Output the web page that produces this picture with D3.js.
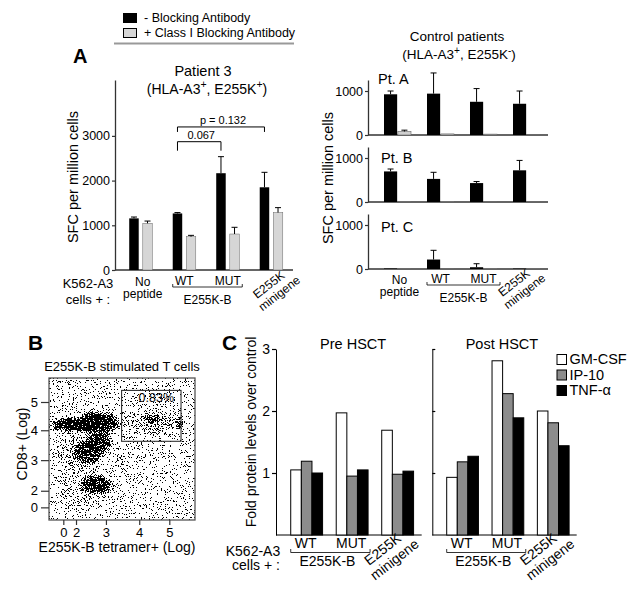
<!DOCTYPE html>
<html>
<head>
<meta charset="utf-8">
<script src="https://cdn.jsdelivr.net/npm/d3@7"></script>
<style>body{margin:0;background:#fff}</style>
</head>
<body>
<script>
// ---------- data ----------
const legendLabels = ["- Blocking Antibody", "+ Class I Blocking Antibody"];
const groupsA = ["No peptide", "WT", "MUT", "E255K minigene"];

// Patient 3, SFC per million cells
const p3Block = [1155, 1265, 2165, 1850];
const p3BlockErr = [30, 20, 370, 335];
const p3Class = [1045, 745, 805, 1285];
const p3ClassErr = [50, 30, 150, 110];
const p3Ticks = [0, 1000, 2000, 3000];
const sigTests = [
  { from: "WT", to: "MUT", label: "0.067", level: 2870 },
  { from: "WT", to: "E255K minigene", label: "p = 0.132", level: 3200 }
];

// control patients
const ctrlNames = ["Pt. A", "Pt. B", "Pt. C"];
const ctrlBlock = [[925, 940, 755, 710], [695, 525, 430, 720], [12, 215, 40, 10]];
const ctrlBlockErr = [[75, 470, 300, 290], [55, 150, 35, 225], [0, 210, 80, 0]];
const ctrlClass = [[80, 25, 20, 10], [15, 5, 10, 10], [12, 10, 5, 3]];
const ctrlClassErr = [[30, 0, 0, 0], [0, 0, 0, 0], [0, 0, 0, 0]];
const ctrlTicks = [0, 1000];

// flow plot (log display units), populations estimated as density clouds
const flowTicks = [0, 2, 3, 4, 5];
const flowPops = [
  { x: [-2.4, 3.2], y: [-1.0, 3.0], d: 0.17 },
  { x: [-2.4, 3.1], y: [2.6, 4.0], d: 0.28 },
  { x: [-2.8, 2.8], y: [3.9, 4.5], d: 1.0 },
  { x: [1.4, 3.55], y: [3.8, 4.75], d: 1.0 },
  { x: [2.3, 3.25], y: [3.2, 4.1], d: 0.9 },
  { x: [1.0, 3.0], y: [2.8, 3.75], d: 0.85 },
  { x: [2.0, 3.3], y: [1.4, 2.55], d: 0.95 },
  { x: [3.3, 5.6], y: [3.8, 4.75], d: 0.33 },
  { x: [4.1, 4.8], y: [4.2, 4.6], d: 0.75 },
  { x: [5.2, 5.5], y: [3.9, 4.6], d: 0.55 },
  { x: [3.0, 4.5], y: [2.0, 3.8], d: 0.08 }
];
const flowGate = { x: [3.47, 5.39], y: [3.63, 5.41], label: "0.83%" };

// cytokines, fold over control
const cytoGroups = ["WT", "MUT", "E255K minigene"];
const cytokines = ["GM-CSF", "IP-10", "TNF-α"];
const preGMCSF = [1.05, 1.97, 1.69];
const preIP10 = [1.19, 0.95, 0.98];
const preTNF = [1.0, 1.05, 1.03];
const postGMCSF = [0.93, 2.81, 2.0];
const postIP10 = [1.18, 2.28, 1.81];
const postTNF = [1.27, 1.89, 1.44];
const cytoTicks = [1, 2, 3];

// ---------- setup ----------
const FONT = "'Liberation Sans', Arial, Helvetica, sans-serif";
const intFmt = d3.format("d");
const svg = d3.select("body").append("svg")
  .attr("width", 637).attr("height", 590)
  .attr("font-family", FONT)
  .style("background", "#fff");

function label(g, x, y, s, size, anchor) {
  return g.append("text").attr("x", x).attr("y", y)
    .attr("font-size", size).attr("text-anchor", anchor || "middle").text(s);
}
function line(g, x1, y1, x2, y2, col, w) {
  return g.append("line").attr("x1", x1).attr("y1", y1).attr("x2", x2).attr("y2", y2)
    .attr("stroke", col || "#000").attr("stroke-width", w || 1);
}
function styleAxis(ax, size, col) {
  ax.attr("font-family", FONT).attr("font-size", size);
  ax.select(".domain").attr("stroke", col).attr("stroke-width", 1.3);
  ax.selectAll(".tick line").attr("stroke", col).attr("stroke-width", 1.2);
  ax.selectAll(".tick text").attr("fill", "#000");
}
function hlaLabel(g, x, y, size, sign) {
  const t = g.append("text").attr("x", x).attr("y", y).attr("font-size", size).attr("text-anchor", "middle");
  t.append("tspan").text("(HLA-A3");
  t.append("tspan").attr("dy", -size * 0.4).attr("font-size", size * 0.75).text("+");
  t.append("tspan").attr("dy", size * 0.4).text(", E255K");
  t.append("tspan").attr("dy", -size * 0.4).attr("font-size", size * 0.75).text(sign);
  t.append("tspan").attr("dy", size * 0.4).text(")");
}
function rotLabel(g, cx, cy, size) {
  const t = g.append("text").attr("transform", `translate(${cx},${cy}) rotate(-38)`)
    .attr("text-anchor", "middle").attr("font-size", size);
  t.append("tspan").attr("x", 0).text("E255K");
  t.append("tspan").attr("x", 3).attr("dy", size * 1.1).text("minigene");
}
function errorBars(g, vals, errs, xOf, w, y) {
  vals.forEach((v, i) => {
    if (!errs[i]) return;
    const cx = xOf(i) + w / 2;
    line(g, cx, y(v), cx, y(v + errs[i]), "#000", 1);
    line(g, cx - 3, y(v + errs[i]), cx + 3, y(v + errs[i]), "#000", 1);
  });
}
function bracket(g, x1, x2, y, h) {
  g.append("path").attr("d", `M${x1},${y + h}V${y}H${x2}V${y + h}`)
    .attr("fill", "none").attr("stroke", "#000").attr("stroke-width", 1);
}

// ---------- top legend ----------
const gL = svg.append("g");
const legFills = ["#000", "#d6d6d6"];
legendLabels.forEach((s, i) => {
  gL.append("rect").attr("x", 123.5).attr("y", 13.5 + i * 15).attr("width", 13).attr("height", 9)
    .attr("fill", legFills[i]).attr("stroke", "#000").attr("stroke-width", 1);
  label(gL, 144, 22 + i * 15, s, 12.5, "start");
});
line(gL, 114, 43.5, 294, 43.5, "#999", 2);
label(svg, 73, 63, "A", 20, "start").attr("font-weight", "bold");

// ---------- panel A, patient 3 ----------
const gA = svg.append("g");
const xP3 = d3.scaleBand().domain(groupsA).range([119, 293]).paddingInner(0.47).paddingOuter(0.235);
const subA = d3.scaleBand().domain(["block", "class"]).range([0, xP3.bandwidth()]).paddingInner(0.3);
const yP3 = d3.scaleLinear().domain([0, 4250]).range([270, 80]);

const axP3 = gA.append("g").attr("transform", "translate(115,0)")
  .call(d3.axisLeft(yP3).tickValues(p3Ticks).tickFormat(intFmt).tickSize(3).tickPadding(2).tickSizeOuter(0));
styleAxis(axP3, 12.5, "#333");
line(gA, 115, yP3(0), 293, yP3(0), "#333", 1.3);

gA.selectAll("rect.blk").data(p3Block).join("rect").attr("class", "blk")
  .attr("x", (d, i) => xP3(groupsA[i]) + subA("block")).attr("y", d => yP3(d))
  .attr("width", subA.bandwidth()).attr("height", d => yP3(0) - yP3(d)).attr("fill", "#000");
gA.selectAll("rect.cls").data(p3Class).join("rect").attr("class", "cls")
  .attr("x", (d, i) => xP3(groupsA[i]) + subA("class")).attr("y", d => yP3(d))
  .attr("width", subA.bandwidth()).attr("height", d => yP3(0) - yP3(d))
  .attr("fill", "#d6d6d6").attr("stroke", "#666").attr("stroke-width", 0.5);
errorBars(gA, p3Block, p3BlockErr, i => xP3(groupsA[i]) + subA("block"), subA.bandwidth(), yP3);
errorBars(gA, p3Class, p3ClassErr, i => xP3(groupsA[i]) + subA("class"), subA.bandwidth(), yP3);

sigTests.forEach(t => {
  const x1 = xP3(t.from) + subA("block") + subA.bandwidth() / 2;
  const x2 = xP3(t.to) + subA("block") + subA.bandwidth() / 2;
  const yb = yP3(t.level);
  bracket(gA, x1, x2, yb, t.label === "0.067" ? 9 : 5);
  label(gA, (x1 + x2) / 2 + 2, yb - 3, t.label, 11);
});

label(gA, 203, 76, "Patient 3", 14.5);
hlaLabel(gA, 207, 94, 14, "+");
label(gA, 0, 0, "SFC per million cells", 14.5)
  .attr("transform", "translate(78,177) rotate(-90)");

function xLabelsA(g, xs, bandW, base, size, rot) {
  const c = k => xs(k) + bandW / 2;
  label(g, c("No peptide") + 2, base, "No", size);
  label(g, c("No peptide") + 2, base + 11.5, "peptide", size);
  label(g, c("WT"), base - 1, "WT", size);
  label(g, c("MUT"), base - 1, "MUT", size);
  const bx1 = xs("WT"), bx2 = xs("MUT") + bandW + 3;
  g.append("path").attr("d", `M${bx1},${base - 2}V${base + 1}H${bx2}V${base - 2}`)
    .attr("fill", "none").attr("stroke", "#000").attr("stroke-width", 0.8);
  label(g, (bx1 + bx2) / 2, base + 18, "E255K-B", size);
  rotLabel(g, c("E255K minigene") + rot, base + 2, size);
}
xLabelsA(gA, xP3, xP3.bandwidth(), 286, 12, 0);
label(gA, 88, 288, "K562-A3", 13);
label(gA, 88, 304, "cells + :", 13);

// ---------- panel A, control patients ----------
const gR = svg.append("g");
const xCtrl = d3.scaleBand().domain(groupsA).range([371.1, 552.9]).paddingInner(0.372).paddingOuter(0.3);
const subR = d3.scaleBand().domain(["block", "class"]).range([0, xCtrl.bandwidth()]).paddingInner(0.05);
const ptLabelPos = [[378, 84], [381, 163], [381, 232]];

ctrlNames.forEach((nm, k) => {
  const y0 = 135 + 67 * k;
  const yC = d3.scaleLinear().domain([0, 1250]).range([y0, y0 - 55]);
  const ax = gR.append("g").attr("transform", "translate(368,0)")
    .call(d3.axisLeft(yC).tickValues(ctrlTicks).tickFormat(intFmt).tickSize(3).tickPadding(2).tickSizeOuter(0));
  styleAxis(ax, 12.5, "#333");
  line(gR, 368, y0, 548, y0, "#333", 1.3);
  gR.selectAll("rect.b" + k).data(ctrlBlock[k]).join("rect").attr("class", "b" + k)
    .attr("x", (d, i) => xCtrl(groupsA[i]) + subR("block")).attr("y", d => yC(d))
    .attr("width", subR.bandwidth()).attr("height", d => y0 - yC(d)).attr("fill", "#000");
  gR.selectAll("rect.c" + k).data(ctrlClass[k]).join("rect").attr("class", "c" + k)
    .attr("x", (d, i) => xCtrl(groupsA[i]) + subR("class")).attr("y", d => yC(d))
    .attr("width", subR.bandwidth()).attr("height", d => y0 - yC(d))
    .attr("fill", "#cfcfcf").attr("stroke", "#666").attr("stroke-width", 0.6);
  errorBars(gR, ctrlBlock[k], ctrlBlockErr[k], i => xCtrl(groupsA[i]) + subR("block"), subR.bandwidth(), yC);
  errorBars(gR, ctrlClass[k], ctrlClassErr[k], i => xCtrl(groupsA[i]) + subR("class"), subR.bandwidth(), yC);
  label(gR, ptLabelPos[k][0], ptLabelPos[k][1], nm, 14.5, "start");
});
label(gR, 457, 41, "Control patients", 13.5);
hlaLabel(gR, 459, 59, 13.5, "-");
label(gR, 0, 0, "SFC per million cells", 14.5)
  .attr("transform", "translate(333,178) rotate(-90)");
xLabelsA(gR, xCtrl, xCtrl.bandwidth(), 284, 12, -10);

// ---------- panel B, flow plot ----------
const gB = svg.append("g");
label(gB, 28, 350, "B", 21, "start").attr("font-weight", "bold");
const box = { x: 49, y: 378, w: 146, h: 142 };
const fx = d3.scaleLinear().domain(flowTicks)
  .range([0.098, 0.185, 0.39, 0.618, 0.824].map(f => box.x + f * box.w));
const fy = d3.scaleLinear().domain(flowTicks)
  .range([0.089, 0.206, 0.4216, 0.632, 0.831].map(f => box.y + box.h - f * box.h));

const defs = svg.append("defs");
const rg = defs.append("radialGradient").attr("id", "cloud");
rg.append("stop").attr("offset", "0%").attr("stop-color", "#000").attr("stop-opacity", 1);
rg.append("stop").attr("offset", "50%").attr("stop-color", "#000").attr("stop-opacity", 0.92);
rg.append("stop").attr("offset", "80%").attr("stop-color", "#000").attr("stop-opacity", 0.4);
rg.append("stop").attr("offset", "100%").attr("stop-color", "#000").attr("stop-opacity", 0);
// speckle texture: cloud alpha + stretched noise, then thresholded to 1px dots
const flt = defs.append("filter").attr("id", "stipple").attr("filterUnits", "userSpaceOnUse")
  .attr("x", box.x).attr("y", box.y).attr("width", box.w).attr("height", box.h);
flt.append("feTurbulence").attr("type", "fractalNoise").attr("baseFrequency", 1.25)
  .attr("numOctaves", 2).attr("seed", 7).attr("result", "noise0");
flt.append("feComponentTransfer").attr("in", "noise0").attr("result", "noise")
  .append("feFuncA").attr("type", "linear").attr("slope", 3).attr("intercept", -1);
flt.append("feComposite").attr("in", "SourceGraphic").attr("in2", "noise").attr("operator", "arithmetic")
  .attr("k1", 0).attr("k2", 1).attr("k3", 1).attr("k4", -0.5).attr("result", "sum");
flt.append("feComponentTransfer").attr("in", "sum").attr("result", "th")
  .append("feFuncA").attr("type", "discrete").attr("tableValues", "0 1");
flt.append("feFlood").attr("flood-color", "#000").attr("result", "ink");
flt.append("feComposite").attr("in", "ink").attr("in2", "th").attr("operator", "in");
defs.append("clipPath").attr("id", "boxclip").append("rect")
  .attr("x", box.x).attr("y", box.y).attr("width", box.w).attr("height", box.h);

const cloud = gB.append("g").attr("clip-path", "url(#boxclip)").append("g").attr("filter", "url(#stipple)");
cloud.selectAll("ellipse").data(flowPops).join("ellipse")
  .attr("cx", d => (fx(d.x[0]) + fx(d.x[1])) / 2).attr("cy", d => (fy(d.y[0]) + fy(d.y[1])) / 2)
  .attr("rx", d => Math.abs(fx(d.x[1]) - fx(d.x[0])) / 2).attr("ry", d => Math.abs(fy(d.y[1]) - fy(d.y[0])) / 2)
  .attr("fill", "url(#cloud)").attr("opacity", d => d.d);

gB.append("rect").attr("x", box.x).attr("y", box.y).attr("width", box.w).attr("height", box.h)
  .attr("fill", "none").attr("stroke", "#555").attr("stroke-width", 1.3);
gB.append("rect").attr("x", fx(flowGate.x[0])).attr("y", fy(flowGate.y[1]))
  .attr("width", fx(flowGate.x[1]) - fx(flowGate.x[0])).attr("height", fy(flowGate.y[0]) - fy(flowGate.y[1]))
  .attr("fill", "none").attr("stroke", "#333").attr("stroke-width", 1.1);
label(gB, (fx(flowGate.x[0]) + fx(flowGate.x[1])) / 2 + 5, fy(flowGate.y[1]) + 12, flowGate.label, 12.5);

const fax = gB.append("g").attr("transform", `translate(${box.x},0)`)
  .call(d3.axisLeft(fy).tickValues(flowTicks).tickFormat(intFmt).tickSize(8).tickPadding(3).tickSizeOuter(0));
styleAxis(fax, 13, "#333");
fax.select(".domain").remove();
const fbx = gB.append("g").attr("transform", `translate(0,${box.y + box.h})`)
  .call(d3.axisBottom(fx).tickValues(flowTicks).tickFormat(intFmt).tickSize(5).tickPadding(3).tickSizeOuter(0));
styleAxis(fbx, 13, "#333");
fbx.select(".domain").remove();
label(gB, 122, 371, "E255K-B stimulated T cells", 13);
label(gB, 117, 552, "E255K-B tetramer+ (Log)", 14);
label(gB, 0, 0, "CD8+ (Log)", 14).attr("transform", "translate(27,444) rotate(-90)");

// ---------- panel C, cytokines ----------
const gC = svg.append("g");
label(gC, 222, 350, "C", 21, "start").attr("font-weight", "bold");
const yCy = d3.scaleLinear().domain([0, 3]).range([535, 349]);
const cytoFills = ["#fff", "#8c8c8c", "#000"];
const preSets = [preGMCSF, preIP10, preTNF];
const postSets = [postGMCSF, postIP10, postTNF];

function cytoPanel(r0, r1, sets, axisX, axisEnd, labelsLeft) {
  const xs = d3.scaleBand().domain(cytoGroups).range([r0, r1]).paddingInner(0.3).paddingOuter(0.15);
  const sub = d3.scaleBand().domain(cytokines).range([0, xs.bandwidth()]);
  const ax = gC.append("g").attr("transform", `translate(${axisX},0)`);
  if (labelsLeft) {
    ax.call(d3.axisLeft(yCy).tickValues(cytoTicks).tickFormat(intFmt).tickSize(4).tickPadding(2).tickSizeOuter(0));
  } else {
    ax.call(d3.axisRight(yCy).tickValues(cytoTicks).tickSize(3).tickFormat("").tickSizeOuter(0));
  }
  styleAxis(ax, 14, "#000");
  ax.select(".domain").attr("stroke-width", 1);
  line(gC, axisX, yCy(0), axisEnd, yCy(0), "#000", 1);
  cytokines.forEach((c, j) => {
    gC.selectAll(null).data(sets[j]).join("rect")
      .attr("x", (d, i) => xs(cytoGroups[i]) + sub(c)).attr("y", d => yCy(d))
      .attr("width", sub.bandwidth()).attr("height", d => yCy(0) - yCy(d))
      .attr("fill", cytoFills[j]).attr("stroke", "#000").attr("stroke-width", 1);
  });
  const cx = k => xs(k) + xs.bandwidth() / 2;
  label(gC, cx("WT") - 1, 548, "WT", 14);
  label(gC, cx("MUT") - 1, 548, "MUT", 14);
  const bx1 = xs("WT"), bx2 = xs("MUT") + xs.bandwidth() + 2;
  gC.append("path").attr("d", `M${bx1},${549}V${552.5}H${bx2}V${549}`)
    .attr("fill", "none").attr("stroke", "#000").attr("stroke-width", 0.8);
  label(gC, (bx1 + bx2) / 2 - 3, 566, "E255K-B", 14);
  rotLabel(gC, cx("E255K minigene") - 12, 553, 14);
  return xs;
}
const xPre = cytoPanel(283.9, 420.4, preSets, 276, 421.7, true);
const xPost = cytoPanel(439.9, 575.9, postSets, 432.3, 576.7, false);
label(gC, (xPre.range()[0] + xPre.range()[1]) / 2 + 1, 349, "Pre HSCT", 14.5);
label(gC, (xPost.range()[0] + xPost.range()[1]) / 2 - 6, 349, "Post HSCT", 14.5);
label(gC, 0, 0, "Fold protein levels over control", 14)
  .attr("transform", "translate(256,432) rotate(-90)");
label(gC, 253, 556, "K562-A3", 14);
label(gC, 256, 570, "cells + :", 14);

cytokines.forEach((c, j) => {
  gC.append("rect").attr("x", 557).attr("y", 354.5 + j * 15.5).attr("width", 9.5).attr("height", 10)
    .attr("fill", cytoFills[j]).attr("stroke", "#000").attr("stroke-width", 1);
  label(gC, 569.5, 364 + j * 15.5, c, 14.5, "start");
});
</script>
</body>
</html>
